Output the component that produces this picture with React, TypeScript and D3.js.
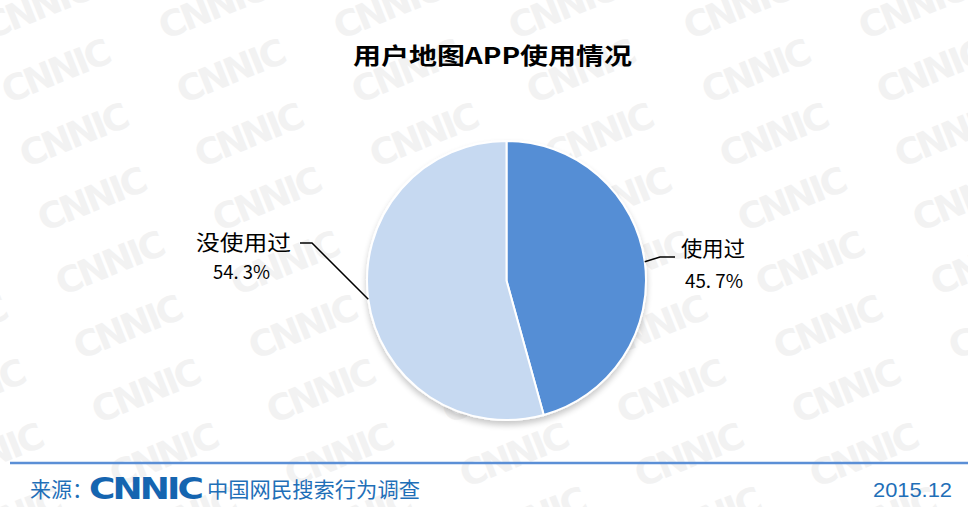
import React from "react";
import * as d3 from "d3";

const categories = ["使用过", "没使用过"];
const values = [45.7, 54.3];
const valueLabels = ["45. 7%", "54. 3%"];
const colors = ["#558ED5", "#C6D9F1"];
const title = "用户地图APP使用情况";
const sourceText = "中国网民搜索行为调查";
const dateText = "2015.12";

const W = 968;
const H = 507;

export default function App() {
  const cx = 506.5, cy = 280.5, r = 139.5;
  const pie = d3.pie<number>().sort(null).value((d) => d);
  const arcs = pie(values);
  const arc = d3.arc<d3.PieArcDatum<number>>().innerRadius(0).outerRadius(r);

  // watermark grid
  const marks: { x: number; y: number }[] = [];
  for (let row = -2; row < 10; row++) {
    for (let col = -1; col < 7; col++) {
      marks.push({ x: col * 175 + row * 18 - 10, y: row * 64 + 40 });
    }
  }

  const pt = (ang: number) => [cx + Math.sin(ang) * r, cy - Math.cos(ang) * r];
  const m0 = (arcs[0].startAngle + arcs[0].endAngle) / 2;
  const m1 = (arcs[1].startAngle + arcs[1].endAngle) / 2;
  const p0 = pt(m0);
  const p1 = pt(m1);

  return (
    <svg width={W} height={H} style={{ position: "absolute", left: 0, top: 0, background: "#fff" }}
      fontFamily="'Noto Sans CJK SC', 'Noto Sans', sans-serif">
      <defs>
        <filter id="sh" x="-20%" y="-20%" width="140%" height="150%">
          <feGaussianBlur in="SourceAlpha" stdDeviation="3" />
          <feOffset dx="0" dy="4" result="b" />
          <feComponentTransfer><feFuncA type="linear" slope="0.22" /></feComponentTransfer>
          <feMerge><feMergeNode /><feMergeNode in="SourceGraphic" /></feMerge>
        </filter>
      </defs>
      <rect width={W} height={H} fill="#fff" />
      <g>
        {marks.map((m, i) => (
          <text key={i} x={m.x} y={m.y} transform={`rotate(-22 ${m.x} ${m.y})`}
            fontFamily="'DejaVu Sans', sans-serif" fontWeight="bold" fontSize={36}
            fill="#f2f2f2" letterSpacing={-3}>CNNIC</text>
        ))}
      </g>
      <text x={353} y={64} fontSize={23} fontWeight="bold" fill="#000"
        textLength={279} lengthAdjust="spacingAndGlyphs">{title}</text>
      <g transform={`translate(${cx},${cy})`} filter="url(#sh)">
        {arcs.map((a, i) => (
          <path key={categories[i]} d={arc(a) || ""} fill={colors[i]} stroke="#fff" strokeWidth={2} />
        ))}
      </g>
      <polyline points={`${p0[0]},${p0[1]} 660,257 675,257`} fill="none" stroke="#000" strokeWidth={1.5} />
      <polyline points={`${p1[0]},${p1[1]} 312,243 300,243`} fill="none" stroke="#000" strokeWidth={1.5} />
      <text x={681} y={256} fontSize={21} fill="#000" textLength={64} lengthAdjust="spacingAndGlyphs">{categories[0]}</text>
      <text x={685} y={288} fontSize={19} fill="#000" textLength={58} lengthAdjust="spacingAndGlyphs">{valueLabels[0]}</text>
      <text x={196} y={250} fontSize={21} fill="#000" textLength={95} lengthAdjust="spacingAndGlyphs">{categories[1]}</text>
      <text x={213} y={279} fontSize={19} fill="#000" textLength={57} lengthAdjust="spacingAndGlyphs">{valueLabels[1]}</text>
      <line x1={10} x2={968} y1={463} y2={463} stroke="#5B8FD6" strokeWidth={2.5} />
      <text x={30} y={497} fontSize={21} fill="#1F6FB8">来源：</text>
      <text x={89} y={499} fontFamily="'DejaVu Sans', sans-serif" fontWeight="bold" fontSize={31}
        fill="#1565B0" letterSpacing={-2.5} textLength={112} lengthAdjust="spacingAndGlyphs">CNNIC</text>
      <text x={207} y={497} fontSize={21} fill="#1F6FB8" textLength={213} lengthAdjust="spacingAndGlyphs">{sourceText}</text>
      <text x={873} y={497} fontSize={21} fontFamily="'Liberation Sans', Arial, sans-serif" fill="#1F6FB8"
        textLength={79} lengthAdjust="spacingAndGlyphs">{dateText}</text>
    </svg>
  );
}
